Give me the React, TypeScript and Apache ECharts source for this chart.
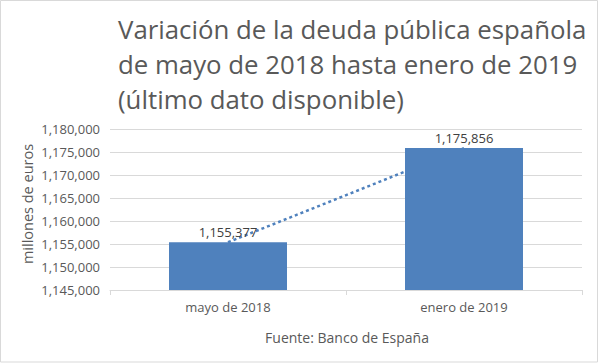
import React, { useEffect, useRef } from "react";
import * as echarts from "echarts";

const categories = ["mayo de 2018", "enero de 2019"];
const debtValues = [1155377, 1175856];
const titleLines = [
  "Variación de la deuda pública española",
  "de mayo de 2018 hasta enero de 2019",
  "(último dato disponible)",
];
const yAxisName = "millones de euros";
const sourceText = "Fuente: Banco de España";

const FONT = "'Open Sans', 'Noto Sans', sans-serif";
const fmt = (v: number) => v.toLocaleString("en-US");

export default function App() {
  const ref = useRef<HTMLDivElement>(null);
  useEffect(() => {
    if (!ref.current) return;
    const chart = echarts.init(ref.current, null, { renderer: "svg" });
    chart.setOption({
      animation: false,
      backgroundColor: "#ffffff",
      grid: { left: 110, right: 19, top: 129, bottom: 74 },
      graphic: [
        {
          type: "rect",
          shape: { x: 0.5, y: 0.5, width: 597, height: 361.5 },
          style: { fill: "none", stroke: "#d9d9d9", lineWidth: 1 },
          silent: true,
        },
        ...titleLines.map((t, i) => ({
          type: "text",
          x: 118,
          y: 29 + i * 35,
          style: {
            text: t,
            fill: "#595959",
            font: `25.8px ${FONT}`,
            align: "left",
            verticalAlign: "middle",
          },
        })),
        {
          type: "text",
          x: 27,
          y: 204,
          rotation: Math.PI / 2,
          style: {
            text: yAxisName,
            fill: "#595959",
            font: `14.5px ${FONT}`,
            align: "center",
            verticalAlign: "middle",
          },
        },
        {
          type: "text",
          x: 347,
          y: 337,
          style: {
            text: sourceText,
            fill: "#595959",
            font: `14px ${FONT}`,
            align: "center",
            verticalAlign: "middle",
          },
        },
      ],
      xAxis: {
        type: "category",
        data: categories,
        axisLine: { lineStyle: { color: "#d9d9d9", width: 1 } },
        axisTick: { show: true, alignWithLabel: false, length: 5, lineStyle: { color: "#d9d9d9" } },
        axisLabel: { color: "#595959", fontSize: 13, fontFamily: FONT, margin: 10 },
        splitLine: { show: false },
      },
      yAxis: {
        type: "value",
        min: 1145000,
        max: 1180000,
        interval: 5000,
        axisLine: { show: false },
        axisTick: { show: false },
        axisLabel: {
          color: "#595959",
          fontSize: 13,
          fontFamily: FONT,
          margin: 10,
          formatter: (v: number) => fmt(v),
        },
        splitLine: { lineStyle: { color: "#d9d9d9", width: 1 } },
      },
      series: [
        {
          type: "line",
          data: debtValues,
          z: 1,
          symbol: "none",
          lineStyle: { color: "#4f81bd", width: 2.5, type: [3, 3] },
          silent: true,
        },
        {
          type: "bar",
          data: debtValues,
          z: 2,
          barWidth: "50%",
          itemStyle: { color: "#4f81bd" },
          label: {
            show: true,
            position: "top",
            distance: 4,
            color: "#404040",
            fontSize: 13,
            fontFamily: FONT,
            formatter: (p: any) => fmt(p.value),
          },
        },
      ],
    });
    return () => chart.dispose();
  }, []);
  return (
    <div
      ref={ref}
      style={{ position: "fixed", left: 0, top: 0, width: 601, height: 364 }}
    />
  );
}
